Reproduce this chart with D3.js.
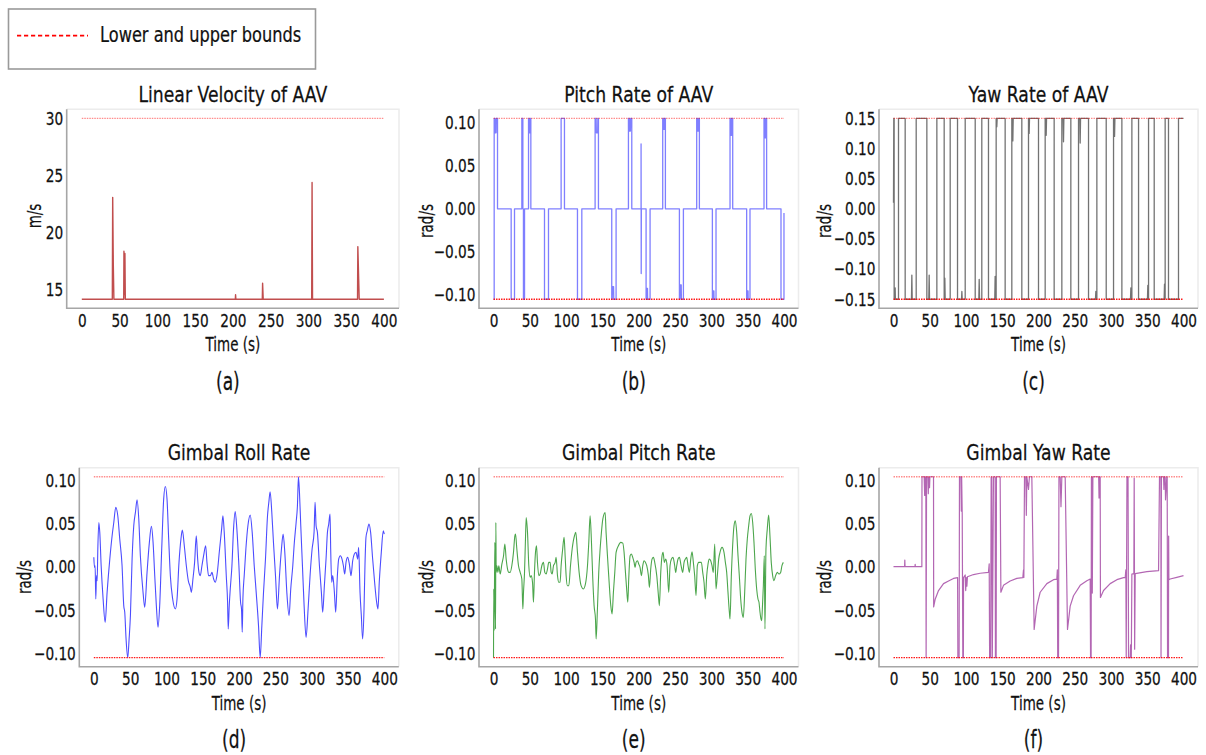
<!DOCTYPE html>
<html>
<head>
<meta charset="utf-8">
<script src="https://cdn.jsdelivr.net/npm/d3@7"></script>
<style>
  body { margin: 0; background: #fff; }
  svg { display: block; font-family: "DejaVu Sans", sans-serif; }
  text { stroke: #111; stroke-width: 0.25px; }
</style>
</head>
<body>
<svg id="fig" width="1206" height="755"></svg>
<script>
// ---------------- data ----------------
const timeTicks = [0, 50, 100, 150, 200, 250, 300, 350, 400];
const velocityTicks = [15, 20, 25, 30];
const rateTicks = [-0.10, -0.05, 0.00, 0.05, 0.10];
const yawTicks = [-0.15, -0.10, -0.05, 0.00, 0.05, 0.10, 0.15];

const velocityBounds = [30];
const rateBounds = [0.1047, -0.1047];
const yawBounds = [0.15, -0.15];

// [time (s), value]
const linearVelocity = [
  [0,14.2],[40.4,14.2],[40.9,23.1],[41.7,17.2],[42.5,14.2],[55.5,14.2],[55.8,18.4],[56.4,14.6],
  [57.1,18.2],[57.6,14.2],[203.3,14.2],[203.6,14.6],[204.0,14.2],[239.0,14.2],[239.4,15.6],
  [240.2,14.2],[304.4,14.2],[304.9,24.4],[305.5,14.2],[365.1,14.2],[365.5,18.8],[366.6,16.0],
  [367.3,14.2],[400,14.2]
];

const pitchRate = [
  [0,-0.1047],[0.9,-0.1047],[0.9,0.1047],[2.0,0.1047],[2.3,0.088],[3.5,0.088],[3.8,0.1047],[5.5,0.1047],
  [5.5,0],[24.3,0],[24.3,-0.1047],[28.9,-0.1047],[28.9,0],[39.0,0],[39.0,0.1047],[40.4,0.1047],
  [40.4,0],[41.2,0],[41.2,-0.1047],[42.7,-0.1047],[42.7,0],[48.2,0],[48.2,0.1047],[49.0,0.1047],
  [49.3,0.088],[50.5,0.088],[50.8,0.1047],[51.4,0.1047],[51.4,0],[70.2,0],[70.2,-0.1047],[75.7,-0.1047],
  [75.7,0],[93.1,0],[93.1,0.1047],[97.7,0.1047],[97.7,0],[115.6,0],[115.6,-0.1047],[121.6,-0.1047],
  [121.6,0],[139.9,0],[139.9,0.1047],[141.3,0.1047],[141.6,0.088],[143.4,0.088],[143.7,0.1047],
  [144.5,0.1047],[144.5,0],[162.8,0],[162.8,-0.1047],[163.5,-0.1047],[163.8,-0.090],[165.3,-0.090],
  [165.6,-0.1047],[168.8,-0.1047],[168.8,0],[185.8,0],[185.8,0.1047],[187.0,0.1047],[187.3,0.090],
  [188.5,0.090],[188.8,0.1047],[190.4,0.1047],[190.4,0],[203.2,0],[203.2,0.075],[203.4,-0.075],
  [203.6,0],[210.1,0],[210.1,-0.1047],[211.0,-0.1047],[211.2,-0.092],[212.0,-0.092],[212.2,-0.1047],
  [215.6,-0.1047],[215.6,0],[233.0,0],[233.0,0.1047],[234.0,0.1047],[234.2,0.092],[235.3,0.092],
  [235.5,0.1047],[236.7,0.1047],[236.7,0],[256.0,0],[256.0,-0.1047],[256.8,-0.1047],[257.0,-0.088],
  [258.5,-0.088],[258.7,-0.1047],[261.5,-0.1047],[261.5,0],[279.8,0],[279.8,0.1047],[280.8,0.1047],
  [281.0,0.090],[282.3,0.090],[282.5,0.1047],[283.5,0.1047],[283.5,0],[301.4,0],[301.4,-0.1047],
  [302.5,-0.1047],[302.7,-0.095],[303.5,-0.095],[303.7,-0.1047],[306.4,-0.1047],[306.4,0],[325.7,0],
  [325.7,0.1047],[326.7,0.1047],[326.9,0.085],[327.8,0.085],[328.0,0.1047],[329.4,0.1047],[329.4,0],
  [348.6,0],[348.6,-0.1047],[349.5,-0.1047],[349.7,-0.095],[350.5,-0.095],[350.7,-0.1047],
  [353.2,-0.1047],[353.2,0],[372.5,0],[372.5,0.1047],[373.5,0.1047],[373.7,0.082],[375.0,0.082],
  [375.2,0.1047],[376.1,0.1047],[376.1,0],[395.9,0],[395.9,-0.1047],[400,-0.1047],[400,-0.005]
];

const yawRate = [
  [0,0.01],[0.4,0.15],[0.9,0.15],[0.9,-0.15],[2.0,-0.15],[2.3,-0.131],[2.6,-0.15],[6.9,-0.15],
  [6.9,0.15],[16.1,0.15],[16.1,-0.15],[24.8,-0.15],[25.3,-0.110],[25.8,-0.15],[31.3,-0.15],
  [31.3,0.15],[46.0,0.15],[46.0,-0.15],[48.7,-0.15],[49.2,-0.110],[49.7,-0.15],[59.8,-0.15],
  [59.8,0.15],[69.9,0.15],[69.9,-0.15],[70.8,-0.115],[71.3,-0.15],[78.2,-0.15],[78.2,0.15],
  [88.3,0.15],[88.3,-0.15],[93.8,-0.15],[94.3,-0.137],[94.8,-0.15],[98.9,-0.15],[98.9,0.15],
  [112.7,0.15],[112.7,-0.15],[117.7,-0.15],[118.2,-0.117],[118.7,-0.15],[121.8,-0.15],[121.8,0.15],
  [131.0,0.15],[131.0,-0.15],[139.7,-0.15],[140.2,-0.112],[140.7,-0.15],[141.6,-0.15],[141.6,0.15],
  [142.0,0.15],[142.5,0.136],[143.0,0.15],[154.0,0.15],[154.0,-0.15],[163.2,-0.15],[163.2,0.15],
  [164.1,0.15],[164.6,0.1125],[165.1,0.15],[177.0,0.15],[177.0,-0.15],[186.2,-0.15],[186.2,0.15],
  [186.6,0.15],[187.1,0.125],[187.6,0.15],[200.0,0.15],[200.0,-0.15],[209.2,-0.15],[209.2,0.15],
  [210.1,0.15],[210.6,0.122],[211.1,0.15],[221.6,0.15],[221.6,-0.15],[232.2,-0.15],[232.2,0.15],
  [234.0,0.15],[234.5,0.111],[235.0,0.15],[244.6,0.15],[244.6,-0.15],[255.2,-0.15],[255.2,0.15],
  [257.0,0.15],[257.5,0.109],[258.0,0.15],[269.0,0.15],[269.0,-0.15],[278.6,-0.15],[279.1,-0.137],
  [279.6,-0.15],[280.5,-0.15],[280.5,0.15],[293.4,0.15],[293.4,-0.15],[303.5,-0.15],[303.5,0.15],
  [304.4,0.15],[304.9,0.12],[305.4,0.15],[315.0,0.15],[315.0,-0.15],[326.9,-0.15],[327.4,-0.131],
  [327.9,-0.15],[328.8,-0.15],[328.8,0.15],[338.0,0.15],[338.0,-0.15],[350.3,-0.15],[350.8,-0.127],
  [351.3,-0.15],[351.8,-0.15],[351.8,0.15],[359.6,0.15],[359.6,-0.15],[373.3,-0.15],[373.8,-0.125],
  [374.3,-0.15],[374.7,-0.15],[374.7,0.15],[379.3,0.15],[379.3,-0.15],[393.1,-0.15],[393.1,0.15],
  [400,0.15]
];

const gimbalRoll = [
  [0,0.0114],[0.9,-0.0002],[1.8,0.0017],[2.7,-0.0368],[3.7,-0.0098],[4.6,-0.0156],[5.5,0.0210],
  [6.9,0.0518],[8.2,0.0403],[10.1,0.0017],[12.8,-0.0368],[15.6,-0.0638],[18.3,-0.0291],[22.0,0.0094],
  [25.2,0.0364],[27.5,0.0518],[30.2,0.0692],[33.0,0.0595],[35.7,0.0326],[38.9,0.0017],[41.2,-0.0445],
  [42.6,-0.0522],[44.4,-0.0830],[46.7,-0.1047],[48.6,-0.0830],[50.4,-0.0560],[52.7,0.0094],[55.0,0.0480],
  [57.3,0.0634],[59.6,0.0780],[61.9,0.0557],[64.1,0.0133],[67.8,-0.0291],[70.1,-0.0464],[73.3,-0.0060],
  [76.5,0.0287],[79.3,0.0472],[81.6,0.0287],[83.9,-0.0098],[86.1,-0.0445],[88.4,-0.0695],[90.7,-0.0445],
  [93.5,0.0210],[96.2,0.0788],[98.5,0.0934],[100.8,0.0788],[103.1,0.0326],[105.4,-0.0098],
  [108.6,-0.0368],[112.3,-0.0483],[114.6,-0.0368],[117.3,0.0056],[120.0,0.0326],[121.9,0.0430],
  [124.6,0.0249],[127.4,0.0017],[130.1,-0.0156],[132.9,-0.0233],[134.3,-0.0291],[136.5,-0.0137],
  [138.8,0.0056],[141.1,0.0364],[143.0,0.0094],[144.8,-0.0060],[146.6,-0.0098],[148.9,0.0017],
  [151.2,0.0133],[154.0,0.0249],[155.8,0.0056],[158.1,-0.0098],[160.4,-0.0098],[162.7,-0.0060],
  [165.0,-0.0137],[167.2,-0.0175],[169.5,-0.0098],[173.2,0.0210],[176.0,0.0441],[177.8,0.0595],
  [179.6,0.0403],[182.4,-0.0098],[184.2,-0.0406],[185.1,-0.0715],[186.5,-0.0445],[187.9,-0.0252],
  [190.2,0.0017],[192.4,0.0441],[194.7,0.0645],[197.0,0.0441],[199.8,0.0017],[202.1,-0.0406],
  [203.4,-0.0483],[204.4,-0.0753],[205.3,-0.0368],[207.1,-0.0098],[209.4,0.0210],[212.2,0.0480],
  [215.4,0.0603],[218.1,0.0403],[220.9,0.0017],[223.6,-0.0291],[226.8,-0.0676],[229.1,-0.1047],
  [231.4,-0.0676],[233.7,-0.0291],[236.4,0.0094],[239.2,0.0595],[241.0,0.0750],[242.8,0.0873],
  [245.1,0.0634],[247.4,0.0287],[250.2,-0.0098],[252.9,-0.0483],[255.7,-0.0098],[258.4,0.0210],
  [260.7,0.0383],[263.0,0.0172],[265.8,-0.0291],[268.9,-0.0560],[271.2,-0.0252],[274.0,0.0017],
  [275.8,0.0249],[278.6,0.0518],[280.4,0.0711],[281.8,0.1047],[283.2,0.0865],[285.0,0.0480],
  [287.3,0.0017],[289.6,-0.0445],[292.3,-0.0811],[295.1,-0.0483],[297.8,-0.0098],[300.6,0.0210],
  [303.3,0.0403],[304.7,0.0750],[306.1,0.0480],[307.9,0.0403],[310.7,0.0017],[313.4,-0.0291],
  [315.2,-0.0522],[317.5,-0.0214],[319.8,0.0094],[321.7,0.0403],[323.5,0.0499],[325.3,0.0615],
  [326.2,0.0210],[327.6,-0.0175],[329.0,-0.0098],[331.3,-0.0291],[333.1,-0.0522],[335.4,-0.0098],
  [337.2,0.0094],[339.5,0.0133],[341.8,0.0094],[343.7,0.0017],[345.5,-0.0079],[347.3,0.0056],
  [349.6,0.0114],[351.9,0.0036],[354.2,-0.0098],[356.5,0.0075],[358.8,0.0152],[361.1,0.0172],
  [363.4,0.0094],[364.7,0.0229],[366.6,-0.0291],[368.4,-0.0560],[370.2,-0.0830],[372.1,-0.0483],
  [373.4,0.0017],[374.8,0.0345],[376.6,0.0422],[378.9,0.0499],[381.2,0.0403],[384.0,0.0094],
  [386.7,-0.0175],[389.5,-0.0406],[391.3,-0.0483],[393.1,-0.0175],[395.9,0.0172],[398.6,0.0422],
  [400.0,0.0383]
];

const gimbalPitch = [
  [0,-0.1047],[0.3,-0.0252],[0.9,-0.0734],[1.8,0.0287],[2.8,-0.0715],[3.2,0.0518],[3.7,-0.0060],
  [4.6,0.0017],[6.0,-0.0060],[7.3,0.0017],[9.2,-0.0079],[11.5,0.0036],[13.8,0.0133],[15.6,0.0268],
  [17.4,0.0094],[19.3,-0.0021],[21.1,-0.0060],[22.9,-0.0060],[25.2,0.0017],[27.5,0.0172],[29.4,0.0364],
  [30.3,0.0383],[32.1,0.0210],[34.4,0.0017],[36.7,-0.0060],[39.0,-0.0137],[40.4,-0.0483],[41.3,-0.0291],
  [42.7,-0.0060],[44.0,0.0326],[45.0,0.0576],[46.8,0.0403],[48.6,0.0017],[50.5,-0.0117],[51.8,-0.0098],
  [53.7,-0.0175],[55.0,-0.0406],[56.4,-0.0060],[57.8,0.0172],[59.2,0.0249],[60.5,0.0056],[62.4,-0.0098],
  [64.2,-0.0079],[66.5,0.0017],[68.8,0.0056],[70.6,-0.0060],[72.5,-0.0079],[74.3,-0.0021],[76.1,0.0056],
  [78.0,0.0056],[79.4,-0.0060],[80.7,-0.0079],[82.6,0.0017],[84.9,0.0056],[86.2,0.0114],[88.1,-0.0098],
  [89.9,-0.0175],[91.7,-0.0175],[93.1,0.0017],[95.0,0.0191],[97.2,0.0345],[98.6,0.0133],[100.0,-0.0098],
  [101.8,-0.0214],[103.7,-0.0214],[106.0,0.0017],[108.3,0.0210],[111.5,0.0364],[113.3,0.0403],
  [115.6,0.0172],[117.9,-0.0060],[120.6,-0.0214],[123.8,-0.0252],[126.6,-0.0194],[129.4,0.0017],
  [131.2,0.0287],[133.0,0.0595],[134.9,0.0287],[136.7,-0.0137],[138.5,-0.0445],[140.4,-0.0599],
  [141.3,-0.0830],[143.1,-0.0483],[144.9,-0.0060],[146.8,0.0210],[148.6,0.0403],[150.5,0.0557],
  [153.7,0.0634],[155.0,0.0403],[156.9,0.0133],[159.2,-0.0175],[161.5,-0.0445],[163.3,-0.0541],
  [165.1,-0.0291],[167.0,-0.0060],[168.8,0.0172],[172.0,0.0249],[175.2,0.0287],[178.0,0.0279],
  [179.8,0.0172],[181.7,-0.0060],[183.5,-0.0272],[184.9,-0.0406],[186.2,-0.0137],[188.1,0.0133],
  [189.9,0.0152],[191.7,0.0114],[193.6,0.0056],[194.9,-0.0002],[196.3,0.0056],[198.2,0.0075],
  [200.0,0.0036],[201.8,-0.0002],[203.7,-0.0098],[205.5,0.0017],[207.3,0.0075],[209.2,0.0056],
  [211.0,0.0017],[213.3,-0.0098],[214.7,-0.0233],[216.5,-0.0021],[218.3,0.0094],[220.2,0.0114],
  [222.0,0.0056],[224.8,-0.0098],[227.1,-0.0329],[228.4,-0.0445],[230.3,-0.0060],[232.1,0.0133],
  [233.5,0.0172],[235.3,0.0056],[237.2,0.0094],[239.0,0.0017],[241.3,-0.0291],[243.1,0.0017],
  [245.0,0.0094],[247.2,0.0114],[249.5,0.0017],[250.9,-0.0060],[252.3,0.0017],[254.1,0.0094],
  [256.0,0.0114],[258.3,0.0017],[260.5,-0.0060],[262.4,0.0056],[264.2,0.0094],[266.0,0.0114],
  [267.9,0.0017],[269.7,-0.0060],[271.6,0.0094],[273.4,0.0179],[275.2,0.0056],[277.0,-0.0098],
  [278.9,-0.0329],[280.7,0.0017],[282.6,0.0056],[284.4,0.0056],[286.2,0.0056],[288.1,-0.0060],
  [289.9,-0.0175],[291.7,-0.0368],[293.6,-0.0098],[295.4,0.0036],[297.2,0.0094],[299.1,0.0075],
  [300.9,0.0017],[302.7,-0.0060],[304.6,0.0268],[306.4,-0.0252],[308.2,-0.0098],[310.1,0.0094],
  [311.9,0.0172],[314.7,0.0229],[317.4,0.0172],[319.3,0.0056],[321.1,-0.0060],[322.9,-0.0291],
  [324.8,-0.0522],[325.7,-0.0599],[327.5,-0.0098],[329.3,0.0249],[331.2,0.0480],[333.0,0.0538],
  [334.9,0.0403],[336.7,0.0133],[338.5,-0.0098],[340.4,-0.0368],[342.2,-0.0522],[344.0,-0.0580],
  [345.9,-0.0291],[347.7,0.0094],[349.5,0.0326],[351.4,0.0480],[353.2,0.0595],[355.0,0.0622],
  [356.9,0.0518],[358.7,0.0287],[360.5,-0.0021],[362.4,-0.0252],[364.2,-0.0368],[365.6,-0.0406],
  [367.0,-0.0522],[368.3,-0.0599],[369.3,-0.0618],[370.2,-0.0483],[371.6,-0.0214],[372.9,0.0133],
  [373.8,-0.0715],[375.2,0.0210],[377.0,0.0441],[378.9,0.0603],[380.7,0.0364],[382.5,0.0056],
  [384.4,-0.0098],[386.2,-0.0156],[388.5,-0.0098],[390.8,-0.0060],[393.1,-0.0079],[395.4,-0.0060],
  [397.2,0.0017],[399.1,0.0056]
];

const gimbalYaw = [
  [0,0.0006],[15.3,0.0006],[15.6,0.0083],[15.9,0.0006],[29.7,0.0006],[29.9,0.0033],[30.1,0.0006],
  [39.1,0.0006],[39.3,0.1047],[42.3,0.1047],[43.0,0.083],[43.5,0.1047],[44.6,0.1047],[45.0,-0.1047],
  [45.6,0.1047],[47.4,0.1047],[48.0,0.085],[48.4,0.1047],[49.7,0.092],[50.2,0.1047],[55.2,0.1047],
  [55.4,-0.046],[57.5,-0.037],[62.1,-0.027],[69.0,-0.019],[75.9,-0.016],[82.8,-0.013],[88.4,-0.012],
  [88.8,-0.1047],[90.5,-0.1047],[91.0,0.1047],[92.9,0.1047],[93.5,0.065],[94.0,0.1047],[94.8,0.06],
  [95.6,-0.1047],[96.4,-0.1047],[96.6,-0.012],[98.9,-0.009],[99.6,-0.027],[100.3,-0.012],[101.2,-0.022],
  [102.0,-0.011],[110.4,-0.0085],[119.5,-0.007],[131.0,-0.006],[132.0,0.004],[132.6,-0.1047],
  [134.0,-0.1047],[134.7,0.1047],[135.5,0.1047],[136.3,-0.1047],[137.9,0.1047],[140.2,0.1047],
  [140.6,-0.1047],[141.6,-0.1047],[142.0,0.1047],[147.1,0.1047],[148.1,-0.029],[151.7,-0.021],
  [160.9,-0.016],[170.1,-0.013],[178.4,-0.012],[179.3,-0.003],[179.8,-0.012],[180.7,0.1047],
  [182.5,0.1047],[183.2,0.06],[183.9,0.1047],[186.2,0.09],[187.5,0.1047],[190.8,0.1047],[194.0,-0.072],
  [197.7,-0.045],[202.3,-0.029],[211.5,-0.019],[220.7,-0.0144],[225.3,-0.0137],[226.0,-0.003],
  [226.5,-0.1047],[227.6,-0.1047],[228.2,0.1047],[229.9,0.1047],[231.0,0.07],[232.2,0.1047],
  [236.8,0.1047],[240.0,-0.072],[243.7,-0.045],[248.3,-0.033],[257.5,-0.021],[266.7,-0.0156],
  [271.3,-0.0137],[271.8,-0.1047],[272.6,-0.1047],[273.0,0.1047],[273.6,0.1047],[274.2,-0.03],
  [275.0,0.1047],[283.0,0.1047],[283.5,0.08],[284.0,0.1047],[285.1,0.1047],[285.4,-0.035],
  [289.7,-0.027],[298.9,-0.019],[308.1,-0.0144],[317.3,-0.012],[319.6,-0.012],[320.5,-0.003],
  [321.0,-0.1047],[322.0,0.1047],[323.5,0.1047],[324.2,-0.1047],[326.5,-0.1047],[327.0,-0.09],
  [328.0,-0.1047],[328.8,-0.008],[331.5,-0.0075],[332.0,0.103],[332.6,-0.095],[333.4,-0.0075],
  [349.5,-0.0052],[365.6,-0.004],[366.9,0.1047],[368.8,0.1047],[369.0,-0.1047],[369.6,0.1047],
  [372.5,0.1047],[373.0,0.09],[373.5,0.1047],[374.7,0.1047],[375.2,0.078],[377.0,0.1047],
  [377.5,0.1047],[378.0,-0.1047],[379.3,-0.1047],[379.5,0.036],[379.8,-0.0145],[381.6,-0.0137],
  [390.8,-0.0118],[400,-0.0098]
];

// ---------------- layout ----------------
const svg = d3.select("#fig");

// text in a narrow face: size, then horizontal squeeze
const FACE = {
  tick:   { size: 18,   sx: 0.76 },
  title:  { size: 20.5, sx: 0.84 },
  axis:   { size: 19,   sx: 0.71 },
  tag:    { size: 24,   sx: 0.71 },
  legend: { size: 20.5, sx: 0.79 }
};

function addText(parent, x, y, str, face, anchor = "middle", rotate = 0) {
  return parent.append("text")
    .attr("transform", `translate(${x},${y})` + (rotate ? ` rotate(${rotate})` : "") + ` scale(${face.sx},1)`)
    .attr("text-anchor", anchor)
    .attr("font-size", face.size)
    .attr("fill", "#111")
    .text(str);
}

const rateFmt = d3.format(".2f");
const panels = [
  { tag: "(a)", title: "Linear Velocity of AAV", ylabel: "m/s", data: linearVelocity,
    color: "#b22222", opacity: 0.8, width: 1.4, curve: d3.curveLinear,
    bounds: velocityBounds, ticks: velocityTicks, fmt: d3.format("d"),
    box: { l: 66.7, t: 109.3, r: 399, b: 308.3 }, ylab: { x: 41, y: 216 } },
  { tag: "(b)", title: "Pitch Rate of AAV", ylabel: "rad/s", data: pitchRate,
    color: "#0000ff", opacity: 0.5, width: 1.3, curve: d3.curveLinear,
    bounds: rateBounds, ticks: rateTicks, fmt: rateFmt,
    box: { l: 479, t: 109.3, r: 798.5, b: 308.3 }, ylab: { x: 433, y: 221 } },
  { tag: "(c)", title: "Yaw Rate of AAV", ylabel: "rad/s", data: yawRate,
    color: "#000000", opacity: 0.55, width: 1.3, curve: d3.curveLinear,
    bounds: yawBounds, ticks: yawTicks, fmt: rateFmt,
    box: { l: 879, t: 109.3, r: 1198, b: 308.3 }, ylab: { x: 831, y: 221 } },
  { tag: "(d)", title: "Gimbal Roll Rate", ylabel: "rad/s", data: gimbalRoll,
    color: "#0000ff", opacity: 0.7, width: 1.1, curve: d3.curveMonotoneX,
    bounds: rateBounds, ticks: rateTicks, fmt: rateFmt,
    box: { l: 79.3, t: 467.7, r: 398.8, b: 666.7 }, ylab: { x: 31, y: 577 } },
  { tag: "(e)", title: "Gimbal Pitch Rate", ylabel: "rad/s", data: gimbalPitch,
    color: "#008000", opacity: 0.7, width: 1.1, curve: d3.curveMonotoneX,
    bounds: rateBounds, ticks: rateTicks, fmt: rateFmt,
    box: { l: 479, t: 467.7, r: 798.5, b: 666.7 }, ylab: { x: 433, y: 577 } },
  { tag: "(f)", title: "Gimbal Yaw Rate", ylabel: "rad/s", data: gimbalYaw,
    color: "#800080", opacity: 0.6, width: 1.2, curve: d3.curveLinear,
    bounds: rateBounds, ticks: rateTicks, fmt: rateFmt,
    box: { l: 879, t: 467.7, r: 1198, b: 666.7 }, ylab: { x: 831, y: 577 } }
];

function padded(lo, hi) {
  const m = (hi - lo) * 0.05;
  return [lo - m, hi + m];
}

panels.forEach(p => {
  const { l, t, r, b } = p.box;
  const g = svg.append("g");

  const x = d3.scaleLinear().domain(padded(0, 400)).range([l, r]);
  const ext = d3.extent(p.data.map(d => d[1]).concat(p.bounds));
  const y = d3.scaleLinear().domain(padded(ext[0], ext[1])).range([b, t]);

  // frame: faint top/right, grey left/bottom
  g.append("path").attr("d", `M${l},${t}H${r}V${b}`)
    .attr("fill", "none").attr("stroke", "#ececec").attr("stroke-width", 1.5);

  // data trace
  const line = d3.line().x(d => x(d[0])).y(d => y(d[1])).curve(p.curve);
  g.append("path").datum(p.data).attr("d", line)
    .attr("fill", "none").attr("stroke", p.color)
    .attr("stroke-opacity", p.opacity).attr("stroke-width", p.width)
    .attr("stroke-linejoin", "round");

  // bound lines
  p.bounds.forEach((v, i) => {
    g.append("line")
      .attr("x1", x(0)).attr("x2", x(400)).attr("y1", y(v)).attr("y2", y(v))
      .attr("stroke", "#ff0000").attr("stroke-width", 1.4)
      .attr("stroke-dasharray", "1.5,1")
      .attr("stroke-opacity", i === 0 ? 0.45 : 0.9);
  });

  g.append("path").attr("d", `M${l},${t}V${b}H${r}`)
    .attr("fill", "none").attr("stroke", "#a6a6a6").attr("stroke-width", 1.6);

  // axes
  const xa = g.append("g").attr("transform", `translate(0,${b})`)
    .call(d3.axisBottom(x).tickValues(timeTicks).tickSize(0).tickPadding(5.5).tickFormat(d3.format("d")));
  const ya = g.append("g").attr("transform", `translate(${l},0)`)
    .call(d3.axisLeft(y).tickValues(p.ticks).tickSize(0).tickPadding(3.5 / FACE.tick.sx).tickFormat(p.fmt));
  [xa, ya].forEach(a => {
    a.select(".domain").remove();
    a.selectAll("text").attr("font-size", FACE.tick.size).attr("fill", "#111")
      .attr("font-family", "DejaVu Sans").attr("transform", `scale(${FACE.tick.sx},1)`);
  });

  const cx = (l + r) / 2;
  addText(g, cx, t - 7.6, p.title, FACE.title);
  addText(g, cx, b + 43, "Time (s)", FACE.axis);
  addText(g, p.ylab.x, p.ylab.y, p.ylabel, FACE.axis, "middle", -90);
  addText(g, cx - 5, b + 81.5, p.tag, FACE.tag);
});

// legend
const lg = svg.append("g");
lg.append("rect").attr("x", 8.5).attr("y", 9).attr("width", 307).attr("height", 60)
  .attr("fill", "#fff").attr("stroke", "#9a9a9a").attr("stroke-width", 1.6);
lg.append("line").attr("x1", 17).attr("x2", 88).attr("y1", 35.7).attr("y2", 35.7)
  .attr("stroke", "#ff0000").attr("stroke-width", 1.8).attr("stroke-dasharray", "4.2,2.8");
addText(lg, 100, 41.7, "Lower and upper bounds", FACE.legend, "start");
</script>
</body>
</html>
